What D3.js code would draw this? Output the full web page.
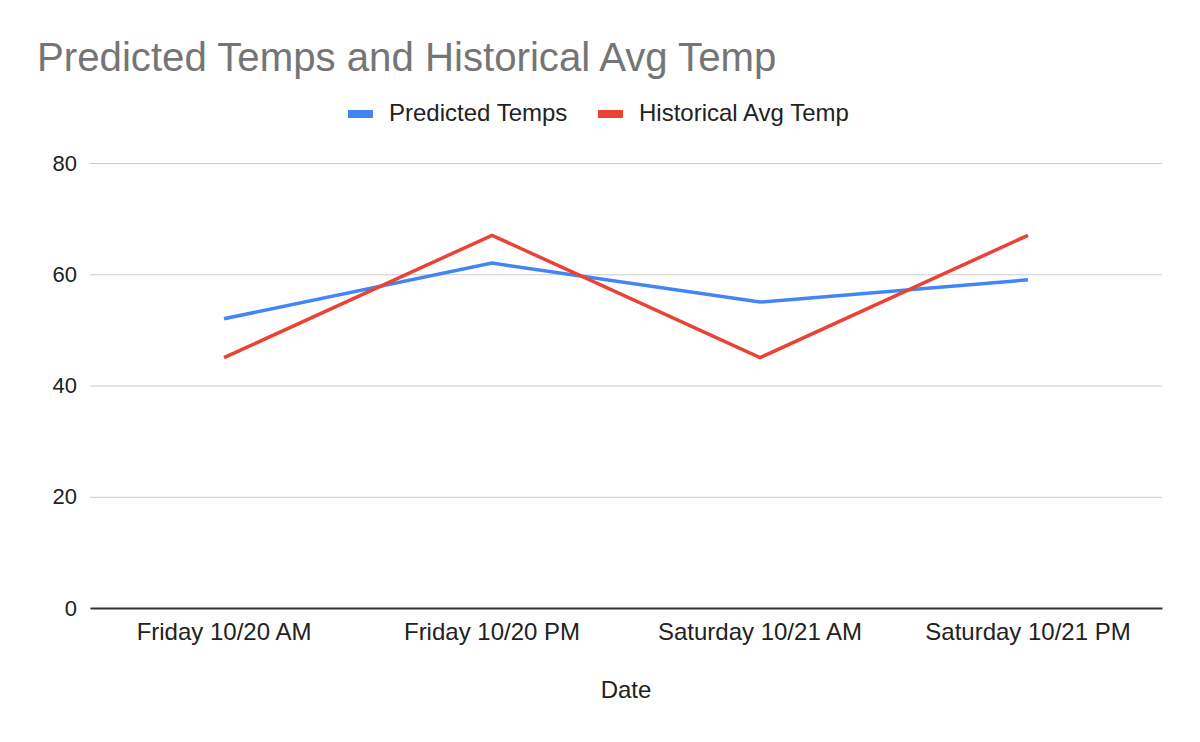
<!DOCTYPE html>
<html><head><meta charset="utf-8">
<script src="https://cdn.jsdelivr.net/npm/d3@7"></script>
<style>body{margin:0;background:#fff;} svg{display:block;font-family:"Liberation Sans",Arial,sans-serif;}</style>
</head><body>
<svg id="chart" width="1200" height="742"></svg>
<script>
const categories = ["Friday 10/20 AM", "Friday 10/20 PM", "Saturday 10/21 AM", "Saturday 10/21 PM"];
const predictedTemps = [52, 62, 55, 59];
const historicalAvgTemp = [45, 67, 45, 67];
const yTicks = [0, 20, 40, 60, 80];
const seriesNames = ["Predicted Temps", "Historical Avg Temp"];
const seriesColors = ["#4285f4", "#ea4335"];

const svg = d3.select("#chart");
const margin = {left: 90, right: 38, top: 163, bottom: 134};
const W = 1200, H = 742;
const x = d3.scaleBand().domain(categories).range([margin.left, W - margin.right]);
const y = d3.scaleLinear().domain([0, 80]).range([H - margin.bottom, margin.top]);

// title
svg.append("text").attr("x", 37).attr("y", 71).attr("font-size", 40.2).attr("fill", "#757575").text("Predicted Temps and Historical Avg Temp");

// legend
const legendX = [348, 598];
seriesNames.forEach((n, i) => {
  svg.append("rect").attr("x", legendX[i]).attr("y", 110).attr("width", 25).attr("height", 8).attr("fill", seriesColors[i]);
  svg.append("text").attr("x", legendX[i] + 41).attr("y", 121).attr("font-size", 24).attr("fill", "#222").text(n);
});

// grid + y axis
const yAxis = d3.axisLeft(y).tickValues(yTicks).tickSize(-(W - margin.left - margin.right)).tickPadding(13);
const gy = svg.append("g").attr("transform", `translate(${margin.left},0)`).call(yAxis);
gy.select(".domain").remove();
gy.selectAll(".tick line").attr("stroke", "#cccccc").attr("stroke-width", 1);
gy.selectAll(".tick text").attr("font-size", 22).attr("fill", "#222").attr("font-family", "Liberation Sans, Arial, sans-serif");

// x axis
const xAxis = d3.axisBottom(x).tickSize(0).tickPadding(15);
const gx = svg.append("g").attr("transform", `translate(0,${y(0)})`).call(xAxis);
gx.select(".domain").attr("stroke", "#333").attr("stroke-width", 2);
gx.selectAll(".tick text").attr("font-size", 24).attr("fill", "#222").attr("font-family", "Liberation Sans, Arial, sans-serif");

svg.append("text").attr("x", (margin.left + W - margin.right) / 2).attr("y", 698).attr("text-anchor", "middle").attr("font-size", 24).attr("fill", "#222").text("Date");

// lines
const line = d3.line().x((d, i) => x(categories[i]) + x.bandwidth() / 2).y(d => y(d));
[predictedTemps, historicalAvgTemp].forEach((s, i) => {
  svg.append("path").datum(s).attr("d", line).attr("fill", "none").attr("stroke", seriesColors[i]).attr("stroke-width", 3.5);
});
</script>
</body></html>
